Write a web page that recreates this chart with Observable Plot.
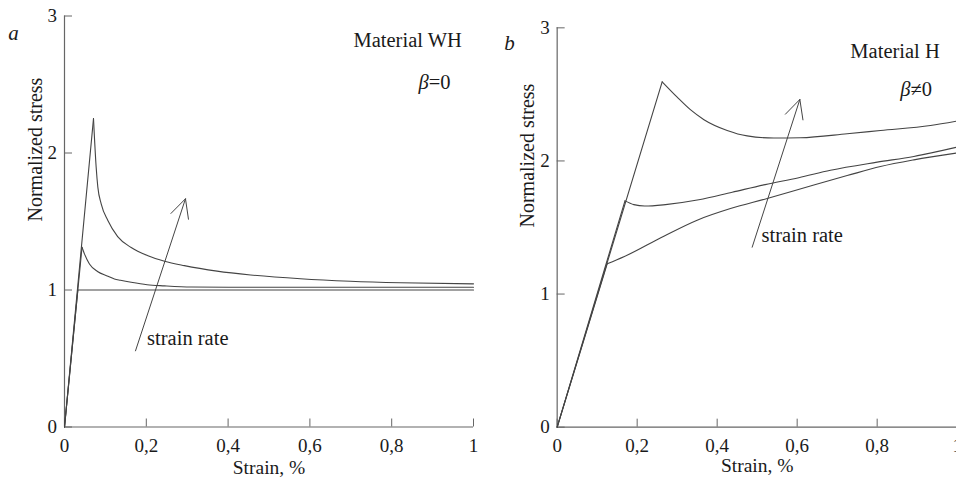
<!DOCTYPE html>
<html>
<head>
<meta charset="utf-8">
<script src="https://cdn.jsdelivr.net/npm/d3@7"></script>
<script src="https://cdn.jsdelivr.net/npm/@observablehq/plot@0.6"></script>
<style>
  html, body { margin: 0; padding: 0; background: #fff; }
  #wrap { position: relative; width: 956px; height: 477px; overflow: hidden; background: #fff; }
  #wrap svg { position: absolute; top: 0; }
</style>
</head>
<body>
<div id="wrap"></div>
<script>
// ---------- shared axis data ----------
const xTicks = [0, 0.2, 0.4, 0.6, 0.8, 1];
const xTickLabels = ["0", "0,2", "0,4", "0,6", "0,8", "1"];
const yTicks = [0, 1, 2, 3];
const yTickLabels = ["0", "1", "2", "3"];
const xTitle = "Strain, %";
const yTitle = "Normalized stress";

// ---------- panel a : Material WH, beta = 0 ----------
const aLowStrain = [0, 0.0326, 1];
const aLowStress = [0, 1.0, 1.0];
const aMidStrain = [0, 0.0428, 0.049, 0.061, 0.0807, 0.1043, 0.122, 0.137, 0.163, 0.202, 0.2445, 0.31, 0.45, 1];
const aMidStress = [0, 1.312, 1.262, 1.19, 1.135, 1.103, 1.081, 1.071, 1.056, 1.038, 1.03, 1.022, 1.02, 1.02];
const aHighStrain = [0, 0.0709, 0.0774, 0.0815, 0.0897, 0.106, 0.13, 0.163, 0.204, 0.2445, 0.293, 0.373, 0.455, 0.577, 0.699, 0.8215, 1];
const aHighStress = [0, 2.251, 1.897, 1.751, 1.629, 1.507, 1.39, 1.31, 1.25, 1.21, 1.178, 1.138, 1.11, 1.082, 1.064, 1.053, 1.045];
const aArrow = [{x1: 0.1736, y1: 0.556, x2: 0.2958, y2: 1.666}];
const aNotes = [
  {x: 0.7066, y: 2.82, text: "Material WH"},
  {x: 0.8655, y: 2.515, text: "β=0"},
  {x: 0.202, y: 0.645, text: "strain rate"}
];
const aLetter = [{x: -0.125, y: 2.875, text: "a"}];

// ---------- panel b : Material H, beta != 0 ----------
const bLowStrain = [0, 0.125, 0.1667, 0.2667, 0.35, 0.4333, 0.525, 0.6417, 0.725, 0.8083, 0.8917, 1];
const bLowStress = [0, 1.227, 1.28, 1.435, 1.555, 1.642, 1.718, 1.82, 1.89, 1.958, 2.008, 2.06];
const bMidStrain = [0, 0.1695, 0.1917, 0.2188, 0.2708, 0.354, 0.4375, 0.52, 0.604, 0.6833, 0.8, 0.8917, 1];
const bMidStress = [0, 1.7, 1.672, 1.661, 1.672, 1.708, 1.765, 1.822, 1.874, 1.93, 1.991, 2.034, 2.104];
const bHighStrain = [0, 0.2625, 0.30, 0.333, 0.367, 0.425, 0.475, 0.5417, 0.608, 0.725, 0.8083, 0.9333, 1];
const bHighStress = [0, 2.594, 2.479, 2.385, 2.31, 2.229, 2.188, 2.172, 2.174, 2.204, 2.229, 2.266, 2.3];
const bArrow = [{x1: 0.4875, y1: 1.352, x2: 0.6067, y2: 2.462}];
const bNotes = [
  {x: 0.733, y: 2.82, text: "Material H"},
  {x: 0.858, y: 2.535, text: "β≠0"},
  {x: 0.5108, y: 1.44, text: "strain rate"}
];
const bLetter = [{x: -0.119, y: 2.885, text: "b"}];

// ---------- helpers ----------
function segments(strain, stress) {
  // elastic part (straight) and post-yield part (smooth)
  const elastic = [{x: strain[0], y: stress[0]}, {x: strain[1], y: stress[1]}];
  const plastic = strain.slice(1).map((x, i) => ({x, y: stress[i + 1]}));
  return {elastic, plastic};
}

const FONT = "Liberation Serif, Times New Roman, serif";
const INK = "#444";
const AXIS = "#666";
const TEXT = "#1a1a1a";

function panel({left, width, mL, mR, mT, mB, curves, arrow, notes, letter, xTitleDy, yTitleDx}) {
  const height = 477;
  const frameW = width - mL - mR;
  const frameH = height - mT - mB;
  const marks = [];
  // axis lines
  marks.push(Plot.ruleY([0], {stroke: AXIS, strokeWidth: 1.2}));
  marks.push(Plot.ruleX([0], {stroke: AXIS, strokeWidth: 1.2}));
  // inward ticks
  marks.push(Plot.tickX(xTicks, {x: d => d, stroke: AXIS, insetTop: frameH - 8}));
  marks.push(Plot.tickY(yTicks, {y: d => d, stroke: AXIS, insetRight: frameW - 8}));
  // tick labels
  marks.push(Plot.axisX({ticks: xTicks, tickSize: 0, tickPadding: 11.5, label: null,
    tickFormat: d => xTickLabels[xTicks.indexOf(d)], fontSize: 19, fill: TEXT}));
  marks.push(Plot.axisY({ticks: yTicks, tickSize: 0, tickPadding: 7.5, label: null,
    tickFormat: d => yTickLabels[yTicks.indexOf(d)], fontSize: 19, fill: TEXT}));
  // curves
  for (const c of curves) {
    const s = segments(c[0], c[1]);
    marks.push(Plot.line(s.elastic, {x: "x", y: "y", stroke: INK, strokeWidth: 1.1}));
    marks.push(Plot.line(s.plastic, {x: "x", y: "y", stroke: INK, strokeWidth: 1.1, curve: "monotone-x"}));
  }
  // arrow
  marks.push(Plot.arrow(arrow, {x1: "x1", y1: "y1", x2: "x2", y2: "y2", stroke: INK, strokeWidth: 1, headLength: 31, headAngle: 53}));
  // annotations
  marks.push(Plot.text(notes, {x: "x", y: "y", text: "text", textAnchor: "start", lineAnchor: "middle", fontSize: 20.5, fill: TEXT}));
  marks.push(Plot.text(letter, {x: "x", y: "y", text: "text", textAnchor: "middle", lineAnchor: "middle", fontSize: 21, fontStyle: "italic", fill: TEXT}));
  // axis titles
  marks.push(Plot.text([xTitle], {frameAnchor: "bottom", text: d => d, dy: xTitleDy, lineAnchor: "middle", fontSize: 19.5, fill: TEXT}));
  marks.push(Plot.text([yTitle], {frameAnchor: "left", text: d => d, dx: yTitleDx, rotate: -90, lineAnchor: "middle", fontSize: 20, fill: TEXT}));

  const svg = Plot.plot({
    width, height,
    marginLeft: mL, marginRight: mR, marginTop: mT, marginBottom: mB,
    x: {domain: [0, 1]},
    y: {domain: [0, 3]},
    style: {fontFamily: FONT, fontSize: "19px", color: TEXT, background: "transparent", overflow: "visible"},
    marks
  });
  svg.style.left = left + "px";
  // italic beta in annotations
  svg.querySelectorAll("text").forEach(t => {
    const s = t.textContent;
    if (s.startsWith("β") && s.length <= 4) {
      t.textContent = "";
      const ns = "http://www.w3.org/2000/svg";
      const b = document.createElementNS(ns, "tspan");
      b.setAttribute("font-style", "italic");
      b.textContent = "β";
      const r = document.createElementNS(ns, "tspan");
      r.textContent = s.slice(1);
      t.appendChild(b); t.appendChild(r);
    }
  });
  return svg;
}

const wrap = document.getElementById("wrap");
wrap.appendChild(panel({
  left: 0, width: 480, mL: 64, mR: 7, mT: 15.5, mB: 50.5,
  curves: [[aLowStrain, aLowStress], [aMidStrain, aMidStress], [aHighStrain, aHighStress]],
  arrow: aArrow, notes: aNotes, letter: aLetter, xTitleDy: 41, yTitleDx: -29
}));
wrap.appendChild(panel({
  left: 480, width: 500, mL: 76.67, mR: 23.33, mT: 27.33, mB: 50.33,
  curves: [[bLowStrain, bLowStress], [bMidStrain, bMidStress], [bHighStrain, bHighStress]],
  arrow: bArrow, notes: bNotes, letter: bLetter, xTitleDy: 38.5, yTitleDx: -30
}));
</script>
</body>
</html>
